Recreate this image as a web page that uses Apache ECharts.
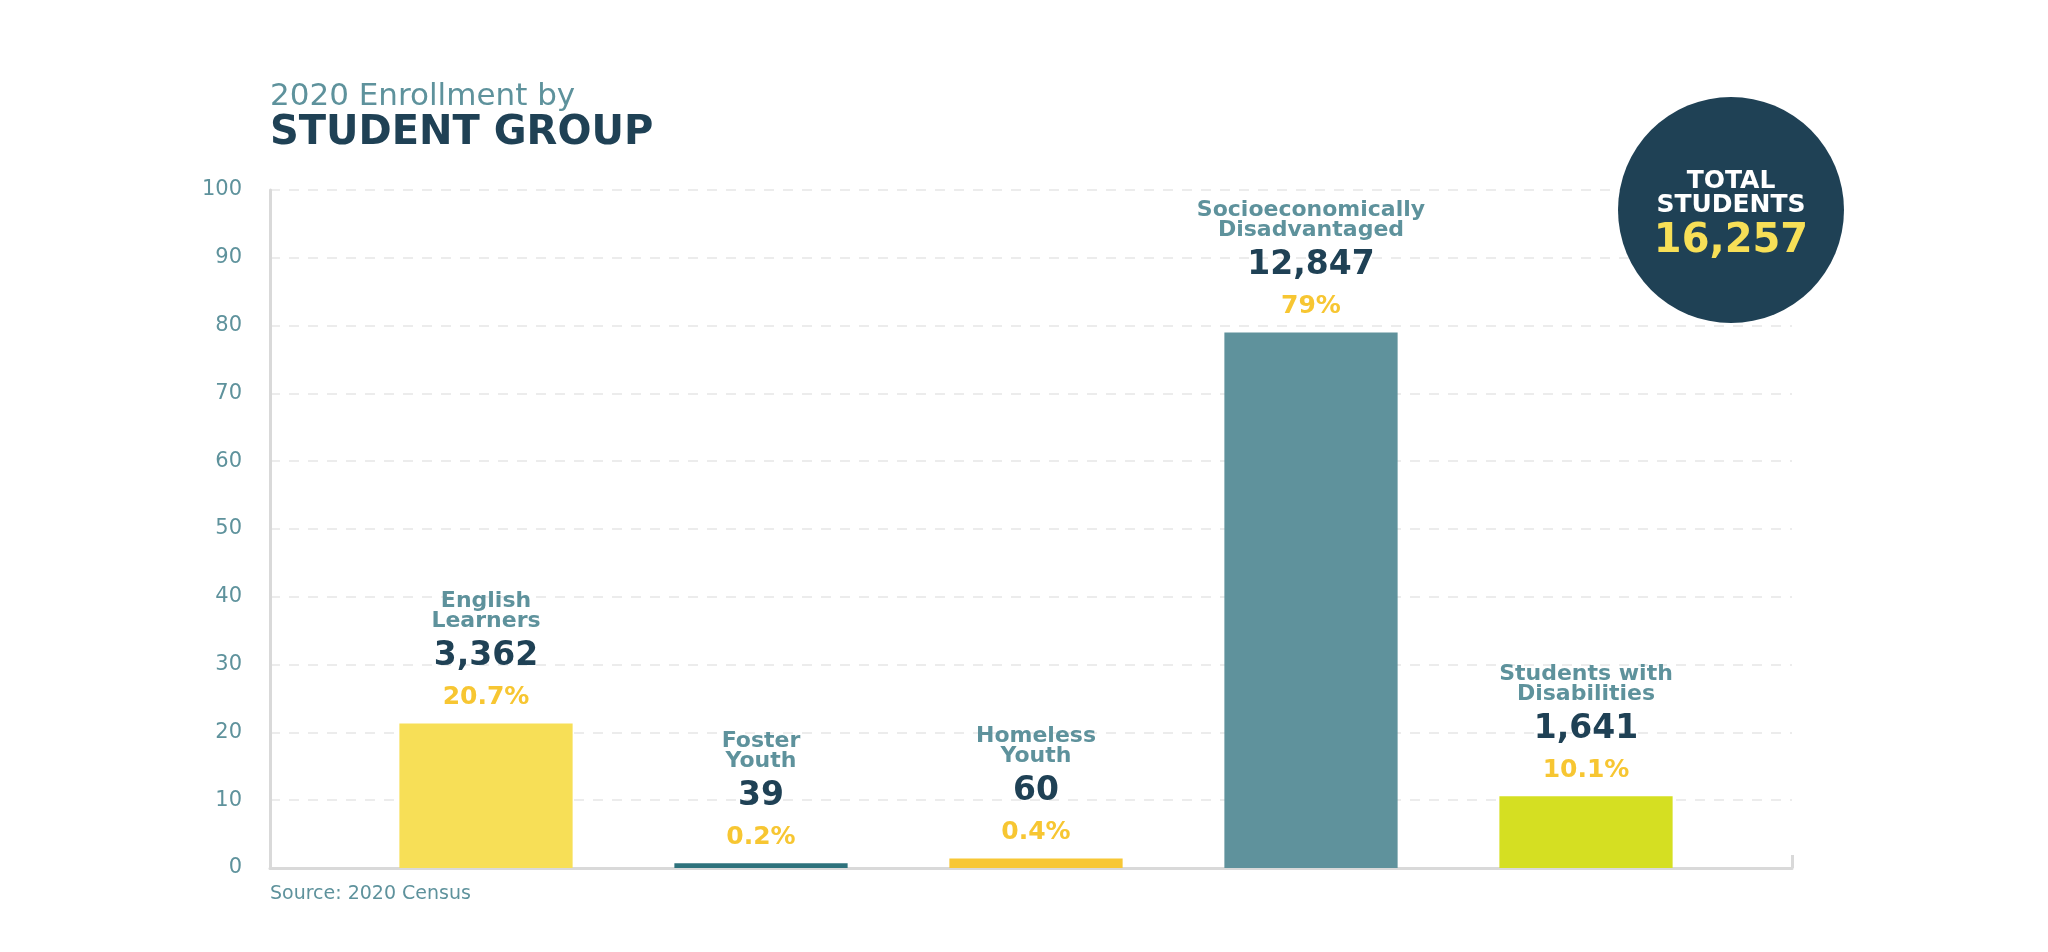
<!DOCTYPE html>
<html>
<head>
<meta charset="utf-8">
<script src="https://cdn.jsdelivr.net/npm/echarts@6/dist/echarts.min.js"></script>
<style>
html,body{margin:0;padding:0;background:#ffffff;}
#chart{width:2048px;height:952px;}
</style>
</head>
<body>
<div id="chart"></div>
<script>
// ---- data ----
const categories = ['English\nLearners', 'Foster\nYouth', 'Homeless\nYouth', 'Socioeconomically\nDisadvantaged', 'Students with\nDisabilities'];
const counts = ['3,362', '39', '60', '12,847', '1,641'];
const pctLabels = ['20.7%', '0.2%', '0.4%', '79%', '10.1%'];
const barValues = [21.3, 0.7, 1.4, 79, 10.6];
const barColors = ['#f7df57', '#2e727c', '#f7c735', '#5f929c', '#d5df22'];
const yTicks = [0, 10, 20, 30, 40, 50, 60, 70, 80, 90, 100];
const titleLine1 = '2020 Enrollment by';
const titleLine2 = 'STUDENT GROUP';
const sourceText = 'Source: 2020 Census';
const totalLabel = 'TOTAL\nSTUDENTS';
const totalStudents = '16,257';

// ---- styles ----
const TEAL = '#5e929c';
const NAVY = '#1f4155';
const GOLD = '#f7c632';
const FONT = '"DejaVu Sans", sans-serif';

const chart = echarts.init(document.getElementById('chart'), null, {renderer: 'canvas'});

const gridTop = 190, gridBottom = 84;

const option = {
  backgroundColor: '#ffffff',
  animation: false,
  grid: [
    {left: 270, right: 256, top: gridTop, bottom: gridBottom},
    {left: 348.5, right: 324.5, top: gridTop, bottom: gridBottom}
  ],
  xAxis: [
    {
      gridIndex: 0, type: 'category', data: [''], boundaryGap: true,
      axisLine: {show: true, lineStyle: {color: '#d9d9d9', width: 3}},
      axisTick: {show: true, inside: true, length: 13, lineStyle: {color: '#d9d9d9', width: 3}},
      axisLabel: {show: false}, splitLine: {show: false}
    },
    {
      gridIndex: 1, type: 'category', data: categories,
      axisLine: {show: false}, axisTick: {show: false}, axisLabel: {show: false}
    }
  ],
  yAxis: [
    {
      gridIndex: 0, type: 'value', min: yTicks[0], max: yTicks[yTicks.length - 1], interval: 10,
      axisLine: {show: true, lineStyle: {color: '#d9d9d9', width: 3}},
      axisTick: {show: false},
      axisLabel: {color: TEAL, fontFamily: FONT, fontSize: 21, margin: 28},
      splitLine: {show: true, lineStyle: {color: '#ececec', width: 2, type: [10, 9]}}
    },
    {
      gridIndex: 1, type: 'value', min: yTicks[0], max: yTicks[yTicks.length - 1],
      axisLine: {show: false}, axisTick: {show: false}, axisLabel: {show: false}, splitLine: {show: false}
    }
  ],
  series: [{
    type: 'bar',
    xAxisIndex: 1, yAxisIndex: 1,
    barWidth: '63%',
    z: 3,
    data: barValues.map((v, i) => ({value: v, itemStyle: {color: barColors[i]}})),
    label: {
      show: true,
      position: 'top',
      distance: 10,
      align: 'center',
      formatter: function (p) {
        return '{n|' + categories[p.dataIndex] + '}\n{c|' + counts[p.dataIndex] + '}\n{p|' + pctLabels[p.dataIndex] + '}';
      },
      rich: {
        n: {fontFamily: FONT, fontWeight: 'bold', fontSize: 22, color: TEAL, lineHeight: 20, align: 'center'},
        c: {fontFamily: FONT, fontWeight: 'bold', fontSize: 33, color: NAVY, lineHeight: 50, align: 'center'},
        p: {fontFamily: FONT, fontWeight: 'bold', fontSize: 25, color: GOLD, lineHeight: 32, align: 'center'}
      }
    }
  }],
  graphic: [
    {type: 'text', left: 270, top: 81, style: {text: titleLine1, fontFamily: FONT, fontSize: 31, fill: TEAL}},
    {type: 'text', left: 270, top: 114, style: {text: titleLine2, fontFamily: FONT, fontWeight: 'bold', fontSize: 40, fill: NAVY}},
    {type: 'text', left: 270, top: 885, style: {text: sourceText, fontFamily: FONT, fontSize: 19, fill: TEAL}},
    {type: 'circle', shape: {cx: 1731, cy: 210, r: 113}, style: {fill: NAVY}, z: 10},
    {type: 'text', z: 11, x: 1731, y: 193, style: {text: totalLabel, fontFamily: FONT, fontWeight: 'bold', fontSize: 25, lineHeight: 24, fill: '#ffffff', align: 'center', verticalAlign: 'middle'}},
    {type: 'text', z: 11, x: 1731, y: 242, style: {text: totalStudents, fontFamily: FONT, fontWeight: 'bold', fontSize: 40, fill: '#f7df57', align: 'center', verticalAlign: 'middle'}}
  ]
};

chart.setOption(option);
</script>
</body>
</html>
